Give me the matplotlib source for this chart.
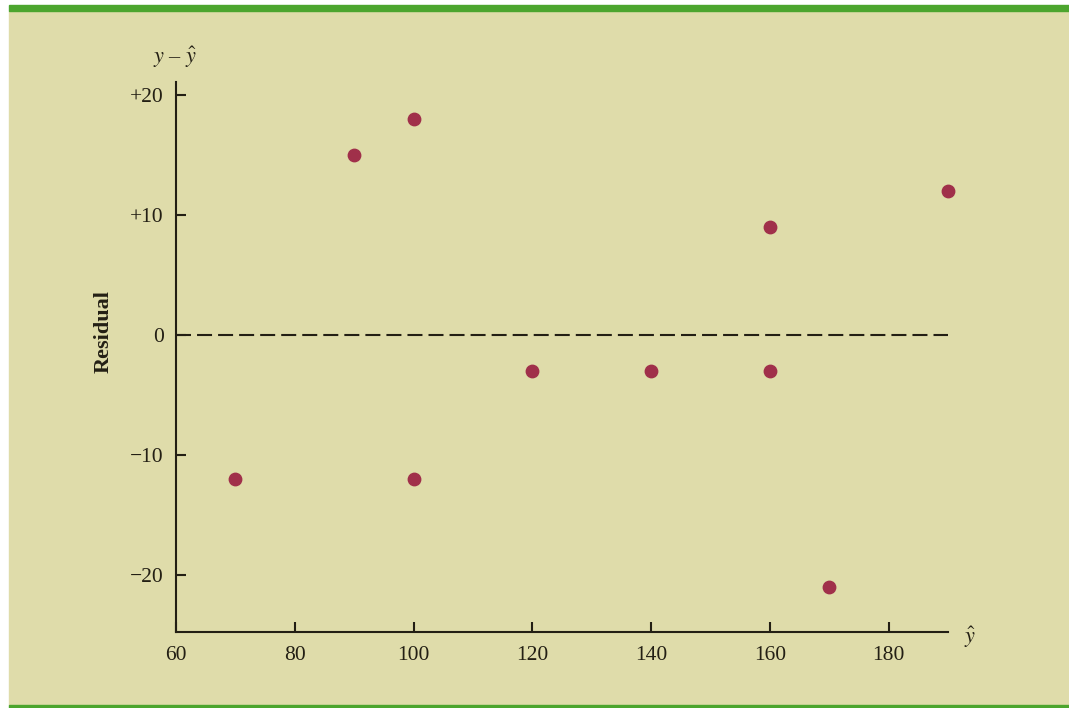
import matplotlib.pyplot as plt
from matplotlib.patches import Rectangle

# residual vs predicted values
y_hat = [70, 90, 100, 100, 120, 140, 160, 160, 170, 190]
residual = [-12, 15, 18, -12, -3, -3, 9, -3, -21, 12]

x_ticks = [60, 80, 100, 120, 140, 160, 180]
y_ticks = [-20, -10, 0, 10, 20]
y_tick_labels = ["\u221220", "\u221210", "0", "+10", "+20"]

BG = "#DFDCAA"
GREEN = "#4CA52E"
INK = "#231F14"
DOT = "#A0304A"

plt.rcParams["font.family"] = ["Liberation Serif", "DejaVu Serif"]

W, H = 1069, 708
fig = plt.figure(figsize=(W / 100, H / 100), dpi=100)
fig.patch.set_facecolor("white")

# background panel with green bands
fig.patches.append(Rectangle((9 / W, 3 / H), 1 - 9 / W, (705 - 11) / H,
                             transform=fig.transFigure, color=BG, zorder=-10))
fig.patches.append(Rectangle((9 / W, 1 - 11 / H), 1 - 9 / W, 6 / H,
                             transform=fig.transFigure, color=GREEN, zorder=-10))
fig.patches.append(Rectangle((9 / W, 0), 1 - 9 / W, 3 / H,
                             transform=fig.transFigure, color=GREEN, zorder=-10))

ax = fig.add_axes([176 / W, 1 - 632 / H, (948 - 176) / W, (632 - 82) / H])
ax.set_facecolor("none")

ax.scatter(y_hat, residual, s=80, color=DOT, zorder=3, clip_on=False)
ax.axhline(0, color=INK, lw=1.5, dashes=(7.2, 2.9))

ax.set_xlim(60, 190)
ax.set_ylim(-24.75, 21.1)
ax.set_xticks(x_ticks)
ax.set_yticks(y_ticks)
ax.set_yticklabels(y_tick_labels)

for side in ["top", "right"]:
    ax.spines[side].set_visible(False)
for side in ["left", "bottom"]:
    ax.spines[side].set_color(INK)
    ax.spines[side].set_linewidth(1.5)

ax.tick_params(direction="in", length=7.5, width=1.5, color=INK,
               labelsize=15.5, labelcolor=INK)
ax.tick_params(axis="x", pad=10)
ax.tick_params(axis="y", pad=9)

fig.text(104 / W, 1 - 332 / H, "Residual", fontsize=16, fontweight="bold",
         color=INK, rotation=90, ha="center", va="center")
fig.text(175 / W, 1 - 57 / H, "$y$ \u2013 $\\hat{y}$", fontsize=16, color=INK,
         ha="center", va="center", math_fontfamily="stix")
fig.text(970 / W, 1 - 637 / H, "$\\hat{y}$", fontsize=16, color=INK,
         ha="center", va="center", math_fontfamily="stix")

fig.savefig("out.png", dpi=100, facecolor=fig.get_facecolor())
